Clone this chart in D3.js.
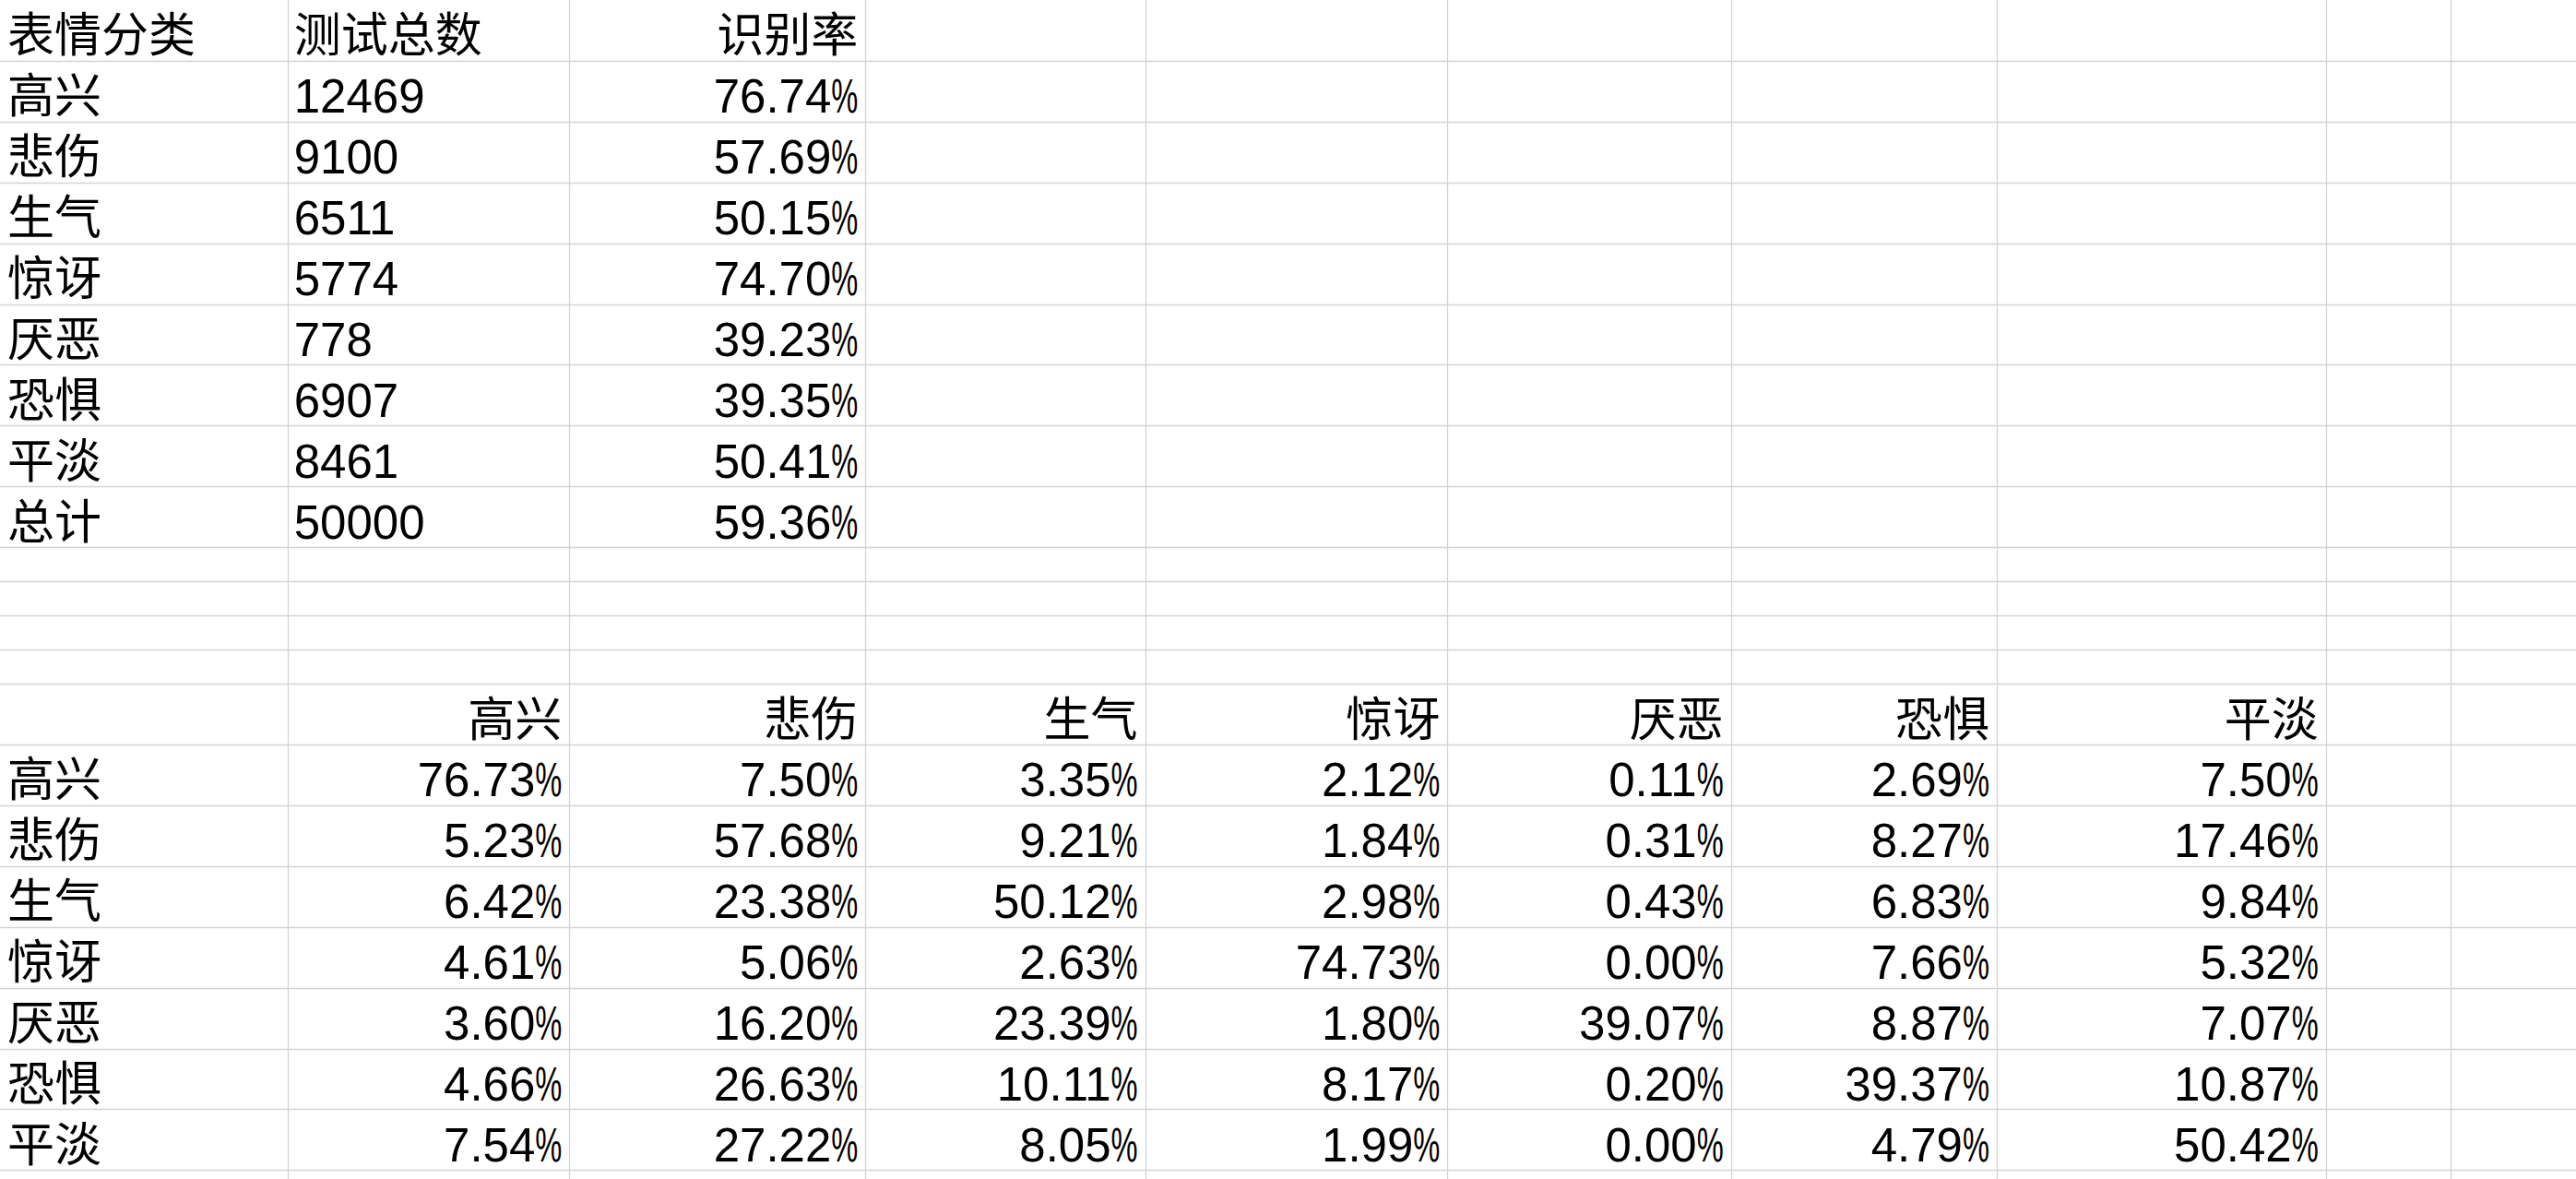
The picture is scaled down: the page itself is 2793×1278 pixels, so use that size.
<!DOCTYPE html>
<html><head><meta charset="utf-8">
<script src="https://cdn.jsdelivr.net/npm/d3@7"></script>
<style>html,body{margin:0;padding:0;background:#fff;overflow:hidden}</style>
</head><body><svg id="c"></svg>
<script>
// ---------- data ----------
const categories = ['高兴','悲伤','生气','惊讶','厌恶','恐惧','平淡'];
const summaryHeaders = ['表情分类','测试总数','识别率'];
const testTotals = [12469, 9100, 6511, 5774, 778, 6907, 8461];
const recognitionRates = [76.74, 57.69, 50.15, 74.70, 39.23, 39.35, 50.41];
const totalLabel = '总计';
const totalCount = 50000;
const totalRate = 59.36;
const confusionRows = [
  [76.73, 7.50, 3.35, 2.12, 0.11, 2.69, 7.50],
  [5.23, 57.68, 9.21, 1.84, 0.31, 8.27, 17.46],
  [6.42, 23.38, 50.12, 2.98, 0.43, 6.83, 9.84],
  [4.61, 5.06, 2.63, 74.73, 0.00, 7.66, 5.32],
  [3.60, 16.20, 23.39, 1.80, 39.07, 8.87, 7.07],
  [4.66, 26.63, 10.11, 8.17, 0.20, 39.37, 10.87],
  [7.54, 27.22, 8.05, 1.99, 0.00, 4.79, 50.42]
];

// ---------- layout ----------
const W = 2793, H = 1278;
const colKeys = ['A','B','C','D','E','F','G','H','I','J'];
const colEdges = [0, 311.7, 617.3, 938.3, 1241.6, 1569.3, 1876.7, 2165, 2521.7, 2657.3, 2793];
const ROW = 65.9, GAP = 37;
const rowKeys = ['h1'].concat(categories.map((c,i)=>'s'+i), ['tot','g1','g2','g3','g4','h2'], categories.map((c,i)=>'m'+i), ['end']);
const rowHeights = rowKeys.map(k => k.startsWith('g') ? GAP : k === 'end' ? H - 1268.3 : ROW);
const cum = Array.from(d3.cumsum(rowHeights));
const rowTops = [0].concat(cum.slice(0, -1));
const xLeft = d3.scaleOrdinal().domain(colKeys).range(colEdges.slice(0, -1));
const xRight = d3.scaleOrdinal().domain(colKeys).range(colEdges.slice(1));
const yTop = d3.scaleOrdinal().domain(rowKeys).range(rowTops);
const yBottom = d3.scaleOrdinal().domain(rowKeys).range(cum);

const FONT = '"Liberation Sans", "Noto Sans CJK SC", sans-serif';
const FS = 51, BASE_OFF = 9.5, PADL = 7, PADR = 8, PCT_SX = 0.64;
const fmtPct = d3.format('.2f');

const svg = d3.select('#c').attr('width', W).attr('height', H)
  .style('display','block').style('background','#fff');

// ---------- grid ----------
const grid = svg.append('g').attr('stroke', '#d4d4d4').attr('stroke-width', 1.3);
grid.selectAll('line.h').data(rowKeys.slice(0, -1)).join('line').attr('class','h')
  .attr('x1', 0).attr('x2', W)
  .attr('y1', d => Math.round(yBottom(d)) + 0.5).attr('y2', d => Math.round(yBottom(d)) + 0.5);
grid.selectAll('line.v').data(colKeys.slice(0, -1)).join('line').attr('class','v')
  .attr('y1', 0).attr('y2', H)
  .attr('x1', d => Math.round(xRight(d)) + 0.5).attr('x2', d => Math.round(xRight(d)) + 0.5);

// ---------- cells ----------
const cells = [];
summaryHeaders.forEach((t, j) => cells.push({row:'h1', col:colKeys[j], text:t, align: j === 2 ? 'end' : 'start'}));
categories.forEach((c, i) => {
  cells.push({row:'s'+i, col:'A', text:c, align:'start'});
  cells.push({row:'s'+i, col:'B', text:String(testTotals[i]), align:'start'});
  cells.push({row:'s'+i, col:'C', text:fmtPct(recognitionRates[i]), align:'end', pct:true});
});
cells.push({row:'tot', col:'A', text:totalLabel, align:'start'});
cells.push({row:'tot', col:'B', text:String(totalCount), align:'start'});
cells.push({row:'tot', col:'C', text:fmtPct(totalRate), align:'end', pct:true});
categories.forEach((c, j) => cells.push({row:'h2', col:colKeys[j+1], text:c, align:'end'}));
confusionRows.forEach((r, i) => {
  cells.push({row:'m'+i, col:'A', text:categories[i], align:'start'});
  r.forEach((v, j) => cells.push({row:'m'+i, col:colKeys[j+1], text:fmtPct(v), align:'end', pct:true}));
});

const tg = svg.append('g').attr('font-family', FONT).attr('font-size', FS).attr('fill', '#000');

const probe = tg.append('text').text('%');
const pctW = probe.node().getComputedTextLength() * PCT_SX;
probe.remove();

const cellG = tg.selectAll('g.cell').data(cells).join('g').attr('class','cell')
  .attr('transform', d => {
    const x = d.align === 'start' ? (d.col === 'A' ? 8 : xLeft(d.col) + PADL) : xRight(d.col) - PADR;
    return `translate(${x},${yBottom(d.row) - BASE_OFF})`;
  });
cellG.append('text')
  .attr('text-anchor', d => d.align)
  .attr('x', d => d.pct ? -pctW : 0)
  .text(d => d.text);
cellG.filter(d => d.pct).append('text')
  .attr('text-anchor', 'end')
  .attr('transform', `scale(${PCT_SX},1)`)
  .text('%');
</script>
</body></html>
